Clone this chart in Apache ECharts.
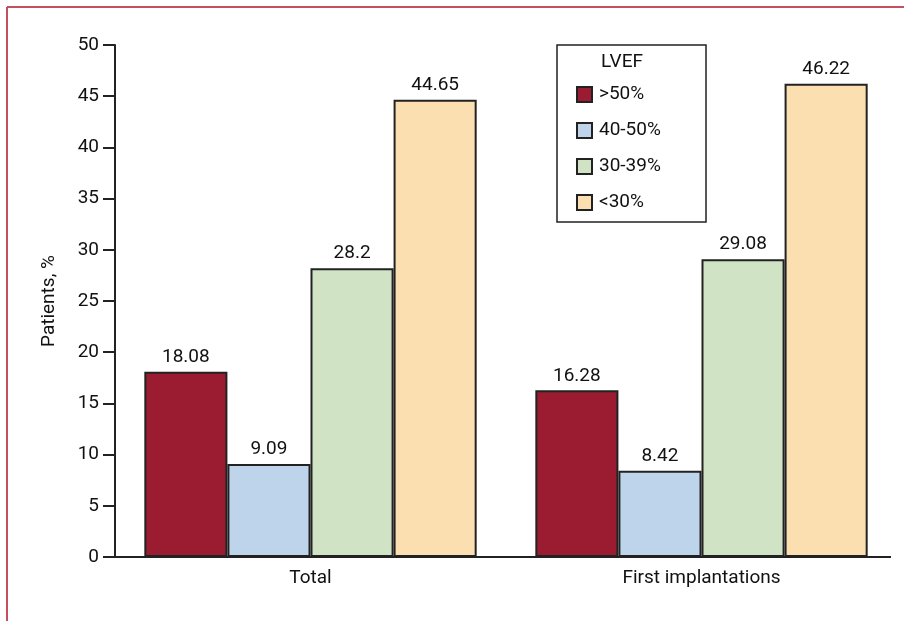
<!DOCTYPE html>
<html>
<head>
<meta charset="utf-8">
<script src="https://cdn.jsdelivr.net/npm/echarts@6/dist/echarts.min.js"></script>
<style>html,body{margin:0;padding:0;background:#fff}#c{width:904px;height:621px}</style>
</head>
<body>
<div id="c"></div>
<script>
var categories = ['Total', 'First implantations'];
var seriesNames = ['>50%', '40-50%', '30-39%', '<30%'];
var gt50 = [18.08, 16.28];
var r40to50 = [9.09, 8.42];
var r30to39 = [28.2, 29.08];
var lt30 = [44.65, 46.22];
var yTicks = [0, 5, 10, 15, 20, 25, 30, 35, 40, 45, 50];

var FONT = 'Roboto, "Liberation Sans", sans-serif';
var FS = 19;
var colors = ['#9b1c31', '#bdd4ea', '#d0e4c5', '#fbdfb0'];
var values = [gt50, r40to50, r30to39, lt30];

var chart = echarts.init(document.getElementById('c'));
var series = seriesNames.map(function (n, i) {
  return {
    name: n, type: 'bar', data: values[i], barGap: '0%', barCategoryGap: '15%',
    itemStyle: { color: colors[i], borderColor: '#222', borderWidth: 2 },
    label: { show: true, position: 'top', distance: 5, color: '#111', fontFamily: FONT, fontSize: FS,
      formatter: function (p) { return String(p.value); } }
  };
});

chart.setOption({
  animation: false,
  grid: { left: 115, right: 7, top: 45, bottom: 64 },
  xAxis: {
    type: 'category', data: categories,
    axisLine: { show: false },
    axisTick: { show: false },
    axisLabel: { color: '#111', fontFamily: FONT, fontSize: FS, margin: 12 }
  },
  yAxis: {
    type: 'value', min: yTicks[0], max: yTicks[yTicks.length - 1], interval: 5,
    name: 'Patients, %', nameLocation: 'middle', nameGap: 56, nameRotate: 90,
    nameTextStyle: { color: '#111', fontFamily: FONT, fontSize: FS },
    axisLine: { show: true, lineStyle: { color: '#222', width: 2 } },
    axisTick: { show: true, length: 12, lineStyle: { color: '#222', width: 2 } },
    axisLabel: { color: '#111', fontFamily: FONT, fontSize: FS, margin: 16 },
    splitLine: { show: false }
  },
  legend: {
    data: seriesNames, orient: 'vertical', left: 571, top: 80,
    itemWidth: 15, itemHeight: 15, itemGap: 17, icon: 'rect',
    textStyle: { color: '#111', fontFamily: FONT, fontSize: FS, padding: [0, 0, 0, 2] }
  },
  graphic: [
    { id: 'frameTop', type: 'line', shape: { x1: 7, y1: 7, x2: 904, y2: 7 }, style: { stroke: '#c4505e', lineWidth: 2 } },
    { id: 'frameLeft', type: 'line', shape: { x1: 7, y1: 7, x2: 7, y2: 621 }, style: { stroke: '#c4505e', lineWidth: 2 } },
    { id: 'legendBox', type: 'rect', shape: { x: 557, y: 45, width: 149, height: 177 }, style: { fill: 'none', stroke: '#222', lineWidth: 1.5 }, z: 0 },
    { id: 'legendTitle', type: 'text', x: 622, y: 62, style: { text: 'LVEF', fill: '#111', font: FS + 'px ' + FONT, textAlign: 'center', textVerticalAlign: 'middle' } }
  ],
  series: series
});

// x axis baseline drawn at y = 0, from the y axis to the right end of the plot
var p0 = chart.convertToPixel({ yAxisIndex: 0 }, 0);
chart.setOption({
  graphic: [
    { id: 'xBaseline', type: 'line', shape: { x1: 114, y1: p0, x2: 891, y2: p0 }, style: { stroke: '#222', lineWidth: 2 }, z: 5 }
  ]
});
</script>
</body>
</html>
